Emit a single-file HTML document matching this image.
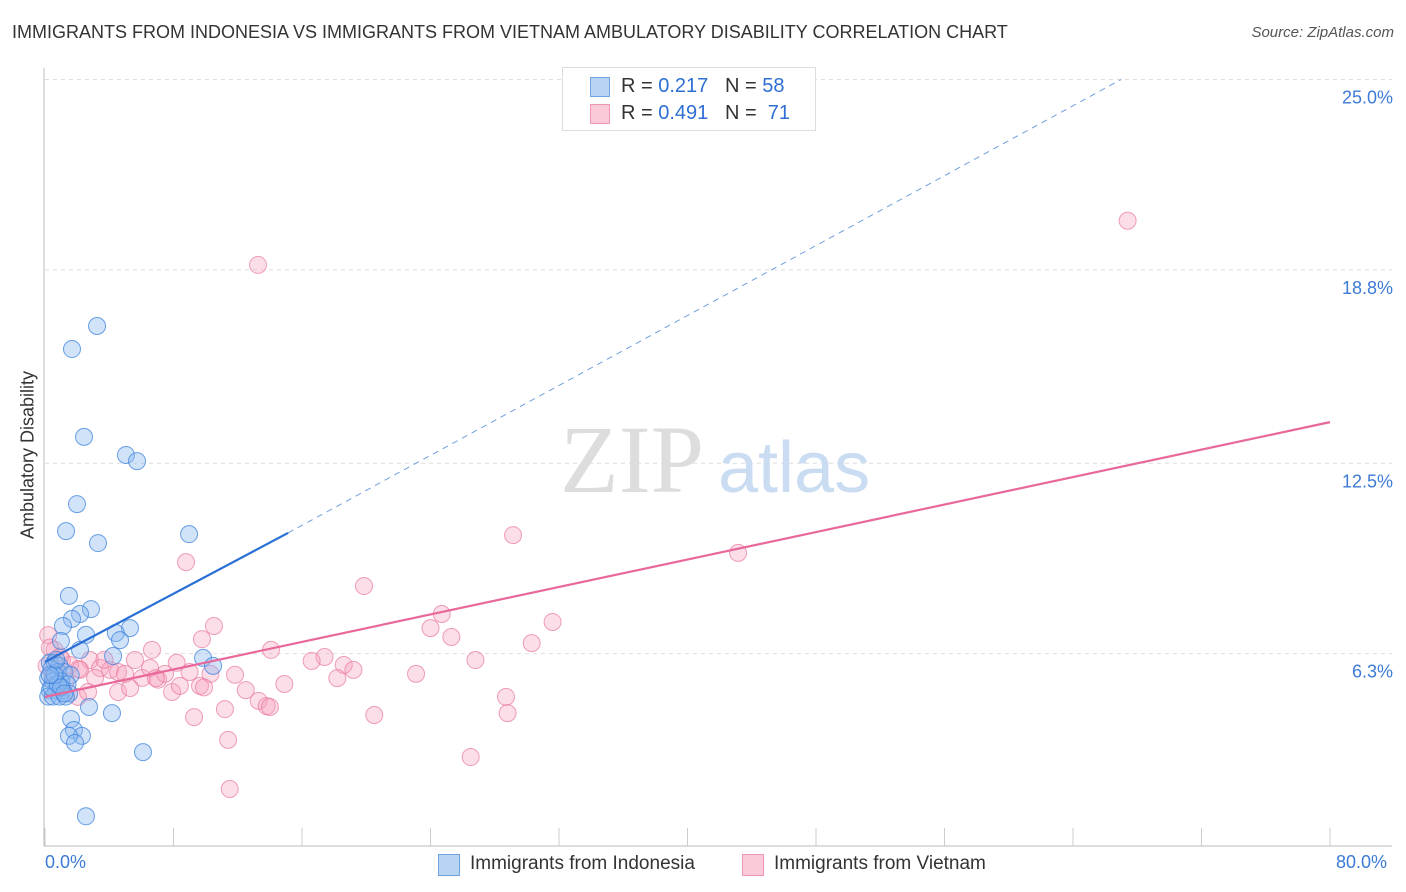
<!DOCTYPE html>
<html><head><meta charset="utf-8"><style>
body{margin:0;background:#fff;font-family:"Liberation Sans",sans-serif;}
#wrap{position:relative;width:1406px;height:892px;overflow:hidden;}
.t{position:absolute;white-space:nowrap;}
</style></head><body>
<div id="wrap">
<div class="t" style="left:12px;top:22px;font-size:18px;color:#333;">IMMIGRANTS FROM INDONESIA VS IMMIGRANTS FROM VIETNAM AMBULATORY DISABILITY CORRELATION CHART</div>
<div class="t" style="right:12px;top:24px;font-size:15px;color:#555;font-style:italic;">Source: ZipAtlas.com</div>
<div class="t" style="left:28px;top:455px;font-size:18px;color:#333;transform:translate(-50%,-50%) rotate(-90deg);">Ambulatory Disability</div>
<svg id="plot" width="1406" height="892" style="position:absolute;left:0;top:0">
<g id="grid"></g>
<text x="560" y="492" font-family="Liberation Serif" font-size="96" fill="#ddd">ZIP</text>
<text x="718" y="492" font-family="Liberation Sans" font-size="72" fill="#c9dcf2">atlas</text>
<g id="pts"></g><g id="lines"></g>
</svg>
<div style="position:absolute;left:562px;top:67px;width:252px;height:62px;border:1px solid #ddd;background:#fff;font-size:20px;color:#333;">
<div style="position:absolute;left:27px;top:9px;width:18px;height:18px;background:#b8d4f5;border:1px solid #6fa3e0;"></div>
<div class="t" style="left:58px;top:7px;">R = <span style="color:#2e6fd4">0.217</span>&nbsp;&nbsp;&nbsp;N = <span style="color:#2e6fd4">58</span></div>
<div style="position:absolute;left:27px;top:36px;width:18px;height:18px;background:#fbcad8;border:1px solid #ee97b3;"></div>
<div class="t" style="left:58px;top:34px;">R = <span style="color:#2e6fd4">0.491</span>&nbsp;&nbsp;&nbsp;N = &nbsp;<span style="color:#2e6fd4">71</span></div>
</div>
<div class="t" style="left:45px;top:852px;font-size:18px;color:#3d7bd6;">0.0%</div>
<div class="t" style="left:1336px;top:852px;font-size:18px;color:#3d7bd6;">80.0%</div>
<div style="position:absolute;left:438px;top:854px;width:20px;height:20px;background:#b8d4f5;border:1px solid #6fa3e0;"></div>
<div class="t" style="left:470px;top:853px;font-size:19px;color:#333;">Immigrants from Indonesia</div>
<div style="position:absolute;left:742px;top:854px;width:20px;height:20px;background:#fbcad8;border:1px solid #ee97b3;"></div>
<div class="t" style="left:774px;top:853px;font-size:19px;color:#333;">Immigrants from Vietnam</div>
</div>
<script>
const yTicks=[6.3,12.5,18.8,25.0];
const yTickLabels=["6.3%","12.5%","18.8%","25.0%"];
const xTicks=[0,8,16,24,32,40,48,56,64,72,80];
const indoX=[3.24,1.68,2.43,5.04,5.73,1.99,1.31,3.30,8.97,1.49,2.86,2.18,1.68,1.12,5.29,4.41,2.55,0.99,4.67,2.18,4.24,9.84,10.46,0.3,0.6,0.9,0.4,0.8,1.2,1.6,0.2,0.5,1.0,1.4,0.3,0.7,1.1,1.5,0.2,0.5,0.9,1.3,0.4,0.8,2.74,4.17,1.62,1.80,2.30,1.49,1.87,6.1,2.55,0.6,1.0,0.3,1.2,0.7];
const indoY=[16.97,16.22,13.36,12.77,12.57,11.17,10.29,9.90,10.19,8.18,7.75,7.59,7.43,7.20,7.13,6.97,6.91,6.71,6.74,6.42,6.22,6.16,5.90,6.0,6.0,5.9,5.8,5.7,5.7,5.6,5.5,5.4,5.4,5.3,5.1,5.1,5.1,5.0,4.9,4.9,4.9,4.9,5.2,5.3,4.56,4.36,4.17,3.81,3.62,3.62,3.39,3.09,1.0,5.6,5.2,5.6,5.0,6.1];
const vietX=[67.4,13.26,29.14,43.15,8.78,19.86,24.7,31.6,10.52,24.0,25.3,30.3,9.77,14.07,6.66,26.8,17.4,16.6,18.6,19.2,23.1,18.2,14.9,12.5,28.7,28.8,13.3,13.8,14.0,11.2,9.28,20.5,11.4,26.5,11.5,0.2,0.6,1.06,1.56,2.18,2.8,3.43,4.05,4.55,4.98,5.6,6.05,6.54,7.04,7.47,7.91,8.4,9.0,9.65,10.3,11.83,4.55,5.3,2.05,3.12,2.68,0.93,0.3,0.1,0.5,1.3,3.7,6.9,8.2,9.9,2.1];
const vietY=[20.4,18.96,10.16,9.58,9.28,8.50,7.59,7.33,7.20,7.13,6.84,6.64,6.77,6.42,6.42,6.09,6.19,6.06,5.93,5.77,5.64,5.50,5.31,5.11,4.89,4.36,4.76,4.59,4.56,4.49,4.23,4.30,3.49,2.93,1.89,6.9,6.42,6.09,5.93,5.77,6.09,5.83,5.77,5.70,5.64,6.09,5.51,5.83,5.45,5.64,5.05,5.25,5.70,5.25,5.64,5.61,5.05,5.18,4.89,5.51,5.05,6.2,6.5,5.9,5.6,5.4,6.1,5.5,6.0,5.2,5.8];
const indoLine=[[0,6.03],[15.13,10.23]];
const indoDash=[[15.13,10.23],[67.0,25.0]];
const vietLine=[[0,4.89],[80,13.84]];
const sx=v=>45+v*16.0625, sy=v=>847-v*30.7;
const NS="http://www.w3.org/2000/svg";
const grid=document.getElementById('grid'),pts=document.getElementById('pts'),lines=document.getElementById('lines'),svg=document.getElementById('plot');
function mk(tag,at,par){const e=document.createElementNS(NS,tag);for(const k in at)e.setAttribute(k,at[k]);par.appendChild(e);return e;}
yTicks.forEach((v,i)=>{
 const l=mk('line',{x1:45,x2:1392,y1:sy(v),y2:sy(v),stroke:'#ddd','stroke-dasharray':'4,4'},grid);
 
 
 const t=mk('text',{x:1393,y:sy(v)+24,'text-anchor':'end','font-size':18,fill:'#3d7bd6','font-family':'Liberation Sans'},grid);
 t.textContent=yTickLabels[i];
 
 
});
const ax=mk('line',{x1:44,x2:44,y1:68,y2:846,stroke:'#bbb'},grid);


const bx=mk('line',{x1:44,x2:1392,y1:846,y2:846,stroke:'#bbb'},grid);


xTicks.forEach(v=>{
 const l=mk('line',{x1:sx(v),x2:sx(v),y1:828,y2:846,stroke:'#ccc'},grid);
 
 
});
vietX.forEach((x,i)=>{
 const c=mk('circle',{cx:sx(x),cy:sy(vietY[i]),r:8.5,fill:'rgba(246,160,188,0.35)',stroke:'rgba(232,120,158,0.7)','stroke-width':1},pts);
 
 
});
indoX.forEach((x,i)=>{
 const c=mk('circle',{cx:sx(x),cy:sy(indoY[i]),r:8.5,fill:'rgba(140,185,240,0.4)',stroke:'rgba(60,130,220,0.75)','stroke-width':1},pts);
 
 
});
const d=mk('line',{x1:sx(indoDash[0][0]),y1:sy(indoDash[0][1]),x2:sx(indoDash[1][0]),y2:sy(indoDash[1][1]),stroke:'#6fa0dc','stroke-width':1,'stroke-dasharray':'6,5'},lines);


const a=mk('line',{x1:sx(indoLine[0][0]),y1:sy(indoLine[0][1]),x2:sx(indoLine[1][0]),y2:sy(indoLine[1][1]),stroke:'#2a6fd6','stroke-width':2.2},lines);


const b=mk('line',{x1:sx(vietLine[0][0]),y1:sy(vietLine[0][1]),x2:sx(vietLine[1][0]),y2:sy(vietLine[1][1]),stroke:'#e8689a','stroke-width':2.2},lines);


</script>
</body></html>
